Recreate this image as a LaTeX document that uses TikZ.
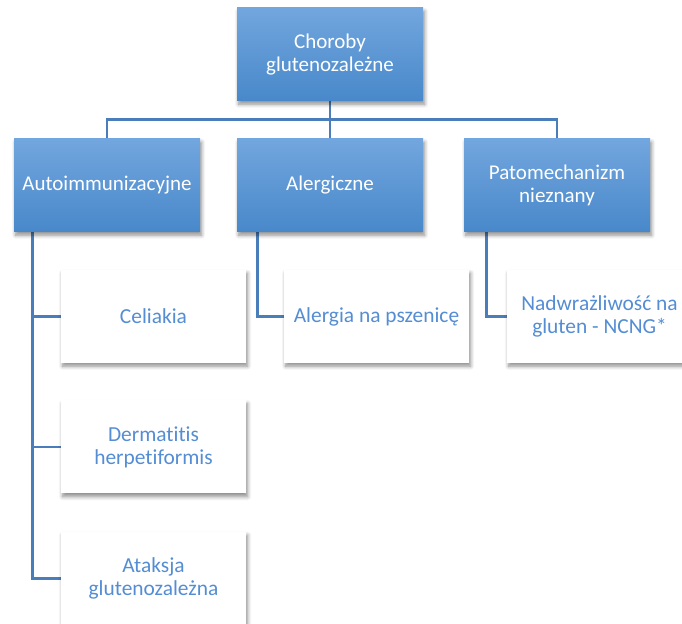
\documentclass[tikz,border=0pt]{standalone}
\usepackage{fontspec}
\setmainfont{Carlito}[Ligatures=NoCommon]
\usepackage{xcolor}
\usetikzlibrary{shadows,shadows.blur}
\definecolor{headtop}{RGB}{114,166,222}
\definecolor{headbot}{RGB}{72,136,202}
\definecolor{linecol}{RGB}{74,126,187}
\definecolor{leaftext}{RGB}{84,141,212}
\tikzstyle{head}=[shape=rectangle, top color=headtop, bottom color=headbot, draw=none, text=white, align=center, minimum width=93pt, minimum height=46.5pt, font=\fontsize{10.5}{11.4}\selectfont, blur shadow={shadow xshift=0.8pt, shadow yshift=-1.6pt, shadow blur steps=6, shadow opacity=45}]
\tikzstyle{leaf}=[shape=rectangle, fill=white, draw=none, text=leaftext, align=center, minimum width=92.5pt, minimum height=46.5pt, font=\fontsize{10.7}{11.6}\selectfont, blur shadow={shadow xshift=0.8pt, shadow yshift=-1.6pt, shadow blur steps=6, shadow opacity=45}]
\tikzstyle{tree edge}=[-, draw=linecol, line width=1.2pt]
\pgfdeclarelayer{nodelayer}
\pgfdeclarelayer{edgelayer}
\pgfsetlayers{edgelayer,nodelayer,main}

\begin{document}
\begin{tikzpicture}[x=0.5pt, y=-0.5pt]
	\useasboundingbox (0, 0) rectangle (682, 624);
	\begin{pgfonlayer}{nodelayer}
		\node [style=head] (0) at (330, 54.5) {Choroby\\glutenozależne};
		\node [style=head] (1) at (107, 185.5) {Autoimmunizacyjne};
		\node [style=head] (2) at (330, 185.5) {Alergiczne};
		\node [style=head] (3) at (557, 185.5) {Patomechanizm\\nieznany};
		\node [style=leaf] (4) at (153.5, 316.5) {Celiakia};
		\node [style=leaf] (5) at (153.5, 447) {Dermatitis\\herpetiformis};
		\node [style=leaf] (6) at (153.5, 578.5) {Ataksja\\glutenozależna};
		\node [style=leaf] (7) at (376.5, 316.5) {Alergia na pszenicę};
		\node [style=leaf] (8) at (599.5, 316.5) {Nadwrażliwość na\\gluten - NCNG*};
	\end{pgfonlayer}
	\begin{pgfonlayer}{edgelayer}
		\draw [style=tree edge] (0.south) -- ++(0, 18) -| (1.north);
		\draw [style=tree edge] (0.south) -- ++(0, 18) -| (3.north);
		\draw [style=tree edge] (0.south) -- (2.north);
		\draw [style=tree edge] ([xshift=9.5pt]1.south west) |- (4.west);
		\draw [style=tree edge] ([xshift=9.5pt]1.south west) |- (5.west);
		\draw [style=tree edge] ([xshift=9.5pt]1.south west) |- (6.west);
		\draw [style=tree edge] ([xshift=10.5pt]2.south west) |- (7.west);
		\draw [style=tree edge] ([xshift=11.5pt]3.south west) |- (8.west);
	\end{pgfonlayer}
\end{tikzpicture}
\end{document}
